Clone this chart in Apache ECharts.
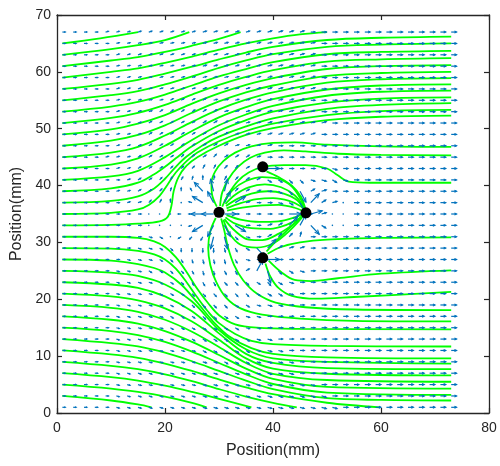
<!DOCTYPE html>
<html>
<head>
<meta charset="utf-8">
<script src="https://cdn.jsdelivr.net/npm/echarts/dist/echarts.min.js"></script>
<style>
  html, body { margin: 0; padding: 0; background: #fff; }
  #main { width: 500px; height: 466px; }
</style>
</head>
<body>
<div id="main"></div>
<script>
// axis ticks
const xTicks = [0, 20, 40, 60, 80];
const yTicks = [0, 10, 20, 30, 40, 50, 60, 70];

// black particles
const dots = [[30, 35.3], [38.1, 43.3], [46.1, 35.2], [38.1, 27.3]];

// quiver grid
const gridX = [1, 3, 5, 7, 9, 11, 13, 15, 17, 19, 21, 23, 25, 27, 29, 31, 33, 35, 37, 39, 41, 43, 45, 47, 49, 51, 53, 55, 57, 59, 61, 63, 65, 67, 69, 71, 73];
const gridY = [67, 65, 63, 61, 59, 57, 55, 53, 51, 49, 47, 45, 43, 41, 39, 37, 35, 33, 31, 29, 27, 25, 23, 21, 19, 17, 15, 13, 11, 9, 7, 5, 3, 1];
// arrow length per column (data units)
const colLen = [0.55, 0.55, 0.55, 0.55, 0.55, 0.55, 0.55, 0.6, 0.6, 0.6, 0.6, 0.6, 0.6, 0.7, 0.7, 0.7, 0.7, 0.7, 0.7, 0.8, 0.8, 0.8, 0.8, 0.8, 0.9, 0.9, 0.9, 0.9, 1, 1, 1, 1, 1, 1, 1, 1, 1];
// arrow directions read row by row (top to bottom), run-length coded
// a..x = 0..345 deg in 15 deg steps, upper case = long arrow, '.' = almost no field
const arrowRows = [
  "4a19b14a",
  "5a19b13a",
  "5a19b13a",
  "5a19b13a",
  "5a19b13a",
  "5a19b13a",
  "5a5b4c9b14a",
  "5a4b6c9b13a",
  "5a3b8c9b12a",
  "5a3b8c8b13a",
  "5a3b8c4b17a",
  "4a3b4c2d1c1d3c1b18a",
  "5a2b3c3d2e2d1c2A5a1x11a",
  "6a1b2c1d2e1f1g1f1e1d2c2w2v2x1w1x10a",
  "5a2b2c1d1f1g1i1J1H1F1d1c1b1a1w1v1U1c1b12a",
  "6a2b1d1e1g1.1l1K1I1E1C1b2a1x1w1U1D1c1b1.10a",
  "8a3.2m2M1A5a2A1B1b2.10a",
  "8a4.1n1O1Q1U1W2a1b1c1D1E1V1w2.10a",
  "8a1x1w1.1o1p1q1R1T1v1x1a1c2d1f14a",
  "7a2x1w1v4s1t1u1w1V1D1c2b14a",
  "6a3x1w1v1u4t1u1x2A17a",
  "5a3x2w2v1u2t2u1c1E1T1v1w1x14a",
  "5a4x2w1v3u3v1w1v1w1x15a",
  "5a4x3w6v3w1x15a",
  "5a5x2w4v2w3x16a",
  "5a5x3w2v2w2x18a",
  "5a5x7w2x18a",
  "5a7x6w2x17a",
  "5a8x5w3x16a",
  "5a10x3w4x15a",
  "5a17x15a",
  "5a19x13a",
  "5a20x12a",
  "5a21x11a"
];
const dirLetters = "abcdefghijklmnopqrstuvwx";
const LONG = 2.2;

// streamlines started on the left edge
const leftLines = [
  [[1, 65], [8, 65.9], [15, 67]],
  [[1, 63], [10, 64], [15, 64.7], [20, 65.6], [24.5, 67]],
  [[1, 61], [10, 62], [15, 62.6], [20, 63.5], [25, 64.6], [30, 65.8], [34, 67]],
  [[1, 59], [10, 60], [15, 60.6], [20, 61.6], [25, 62.7], [30, 63.9], [35, 65], [40, 65.9], [45, 66.6], [50, 67]],
  [[1, 57], [10, 57.9], [15, 58.6], [20, 59.7], [25, 60.9], [30, 62.2], [35, 63.4], [40, 64.4], [50, 65.6], [60, 66], [73, 66.2]],
  [[1, 55], [10, 55.9], [15, 56.6], [20, 57.8], [25, 59.2], [30, 60.7], [35, 62], [40, 63.1], [50, 64.4], [60, 64.8], [73, 65]],
  [[1, 53], [10, 53.9], [15, 54.7], [20, 56], [25, 57.6], [30, 59.2], [35, 60.5], [40, 61.7], [50, 63.1], [60, 63.5], [73, 63.7]],
  [[1, 51], [10, 51.9], [15, 52.8], [20, 54.2], [25, 56], [30, 57.7], [35, 59.1], [40, 60.3], [50, 61.8], [60, 62.2], [73, 62.4]],
  [[1, 49], [10, 49.9], [15, 50.9], [20, 52.4], [25, 54.4], [30, 56.2], [35, 57.7], [40, 58.9], [50, 60.5], [60, 61], [73, 61.2]],
  [[1, 47], [10, 47.9], [15, 48.9], [20, 50.6], [25, 52.8], [30, 54.8], [35, 56.4], [40, 57.6], [50, 59.3], [60, 59.8], [73, 60]],
  [[1, 45], [10, 45.8], [15, 46.8], [20, 48.8], [25, 51.2], [30, 53.4], [35, 55.1], [40, 56.4], [50, 58.1], [60, 58.7], [73, 58.9]],
  [[1, 43], [10, 43.7], [15, 44.8], [20, 47], [25, 49.6], [30, 52], [35, 53.8], [40, 55.2], [50, 56.9], [60, 57.6], [73, 57.8]],
  [[1, 41], [10, 41.6], [15, 42.6], [20, 45], [25, 48], [30, 50.6], [35, 52.5], [40, 54], [50, 55.8], [60, 56.5], [73, 56.7]],
  [[1, 39], [10, 39.5], [15, 40.5], [18, 42], [20, 43.3], [22, 44.8], [25, 46.9], [30, 49.6], [35, 51.5], [40, 53], [50, 54.6], [60, 55.3], [73, 55.5]],
  [[1, 37], [10, 37.3], [15, 38.1], [18, 39.5], [20, 41.2], [22, 43.3], [24, 45.1], [27, 47.1], [30, 48.6], [35, 50.4], [40, 51.8], [50, 53.5], [60, 54.2], [73, 54.5]],
  [[1, 35], [10, 35.2], [15, 35.8], [17, 36.6], [19, 38.2], [20.5, 40.2], [22, 42.3], [24, 44.3], [26, 45.8], [30, 47.8], [35, 49.6], [40, 50.9], [50, 52.4], [60, 53.1], [73, 53.3]],
  [[1, 33], [10, 33.1], [15, 33.3], [19, 33.7], [20.5, 34.5], [21.2, 36.5], [21.6, 39], [22.5, 41.5], [24, 43.5], [26, 45], [30, 47], [35, 48.9], [40, 50.1], [50, 51.5], [60, 52.1], [73, 52.3]],
  [[1, 31], [10, 31], [15, 30.8], [18, 30.2], [20, 29.2], [22, 27.4], [24, 24.8], [26, 21.8], [28, 19.3], [30, 17.2], [33, 15.6], [37, 15], [45, 14.8], [73, 14.7]],
  [[1, 29], [10, 28.9], [15, 28.5], [18, 27.9], [20, 27], [22, 25.4], [24, 23], [26, 20.3], [28, 17.8], [30, 15.8], [33, 13.9], [36, 12.7], [40, 12.1], [50, 11.8], [73, 11.7]],
  [[1, 27], [10, 26.8], [15, 26.2], [18, 25.5], [20, 24.7], [23, 22.6], [26, 19.4], [29, 16], [32, 13.4], [36, 11.4], [40, 10.4], [50, 9.8], [73, 9.6]],
  [[1, 25], [10, 24.7], [15, 24.1], [20, 22.6], [25, 19.6], [30, 14.6], [35, 11.2], [40, 9.6], [50, 9], [73, 8.7]],
  [[1, 23], [10, 22.6], [15, 22], [20, 20.5], [25, 17.9], [30, 14], [35, 10.4], [40, 8.8], [50, 7.9], [73, 7.7]],
  [[1, 21], [10, 20.5], [15, 19.8], [20, 18.4], [25, 16.1], [30, 12.9], [35, 9.6], [40, 7.8], [50, 6.9], [73, 6.6]],
  [[1, 19], [10, 18.5], [15, 17.8], [20, 16.4], [25, 14.3], [30, 11.6], [35, 8.8], [40, 6.9], [50, 5.8], [73, 5.5]],
  [[1, 17], [10, 16.4], [15, 15.7], [20, 14.4], [25, 12.5], [30, 10.2], [35, 7.8], [40, 6], [50, 4.6], [73, 4.3]],
  [[1, 15], [10, 14.4], [15, 13.7], [20, 12.5], [25, 10.8], [30, 8.8], [35, 6.8], [40, 5.1], [50, 3.6], [73, 3.2]],
  [[1, 13], [10, 12.3], [15, 11.7], [20, 10.6], [25, 9.1], [30, 7.4], [35, 5.7], [40, 4.2], [50, 2.6], [60, 2.3], [73, 2.2]],
  [[1, 11], [10, 10.3], [15, 9.7], [20, 8.7], [25, 7.4], [30, 5.9], [35, 4.5], [40, 3.3], [50, 1.8], [59.8, 1]],
  [[1, 9], [10, 8.3], [15, 7.7], [20, 6.8], [25, 5.6], [30, 4.2], [35, 2.9], [40, 1.8], [44.4, 1]],
  [[1, 7], [10, 6.3], [15, 5.7], [20, 4.8], [25, 3.7], [30, 2.5], [36, 1]],
  [[1, 5], [10, 4.3], [15, 3.7], [20, 2.9], [25, 1.8], [27.7, 1]],
  [[1, 3], [10, 2.2], [15, 1.5], [17.5, 1]]
];

// streamlines started around the particles
const dotLines = [
  [[29.6, 36.3], [28.7, 38.5], [28.6, 40.5], [29.3, 42.5], [30.8, 44.3], [33, 45.8], [36, 46.9], [40, 47.5], [44, 47.6], [50, 47.2], [60, 46.9], [73, 46.8]],
  [[30.2, 36.4], [30.6, 38.8], [31.8, 41.2], [33.5, 43.3], [35.8, 44.9], [38.5, 45.8], [42, 46.2], [46, 46], [52, 45.6], [60, 45.4], [73, 45.3]],
  [[30.6, 36.3], [31.8, 38.6], [33.5, 40.8], [35.5, 42.3], [38.1, 43.3], [42, 43.6], [46, 43.6], [50, 43], [52, 41.8], [54, 40.7], [58, 40.5], [73, 40.5]],
  [[31, 37.2], [32.5, 39.2], [35, 40.8], [38, 41.5], [41, 41.2], [43.5, 39.8], [45.3, 37.3], [46.1, 35.3]],
  [[31.2, 36.8], [33, 38.4], [35.5, 39.7], [38.5, 40.2], [41.5, 39.7], [44, 38.3], [45.6, 36.4], [46.1, 35.3]],
  [[31.3, 36.4], [33.5, 37.7], [36, 38.6], [39, 39], [42, 38.6], [44.5, 37.4], [46.1, 35.3]],
  [[31.4, 36], [34, 36.9], [37, 37.6], [40, 37.8], [43, 37.3], [45.2, 36.3], [46.1, 35.3]],
  [[31.5, 35.6], [35, 36.2], [38, 36.5], [41, 36.6], [44, 36.1], [46.1, 35.3]],
  [[31.4, 34.8], [34, 34], [37.5, 33.6], [41, 33.7], [44, 34.4], [46.1, 35.2]],
  [[31.2, 34.4], [33, 33.3], [36, 32.5], [39.5, 32.4], [42.5, 33.1], [44.8, 34.2], [46.1, 35.2]],
  [[31, 34.1], [33, 32], [35.5, 30.5], [38, 30.4], [41, 31.5], [44, 33.4], [46.1, 35.2]],
  [[30.8, 34], [32, 31.5], [34, 29.6], [37, 29.1], [40, 29.8], [43, 32], [46.1, 35.2]],
  [[38.8, 42.5], [41, 41.5], [43.5, 40], [45.2, 38], [46.1, 35.5]],
  [[38.8, 28.4], [40.5, 30.2], [42.8, 32.3], [44.8, 34.1], [46.1, 35.2]],
  [[29.4, 34.3], [28.4, 32], [28, 29], [28.4, 26], [29.5, 23], [31.3, 20.3], [34, 18.4], [38, 17.3], [45, 16.6], [55, 16.2], [73, 16.1]],
  [[30.4, 34.2], [31, 32], [31.7, 29], [32.8, 26], [34.5, 23.3], [37, 21], [40.5, 19.4], [46, 18.6], [55, 18.2], [73, 18.1]],
  [[39, 28], [41.5, 29.2], [45, 30], [50, 30.5], [60, 30.8], [73, 30.9]],
  [[39.2, 26.8], [41.5, 24.8], [44, 23.4], [47, 23.2], [52, 23.7], [60, 24.5], [73, 25.1]],
  [[38.6, 26.3], [39.5, 24], [41, 22], [43.5, 20.6], [48, 20.1], [55, 20.4], [73, 21.3]]
];

// build quiver data from the coded rows
const arrowData = [];
arrowRows.forEach(function (row, r) {
  const cells = row.replace(/(\d+)(\D)/g, function (m, n, ch) { return ch.repeat(+n); });
  for (let c = 0; c < gridX.length; c++) {
    const ch = cells[c];
    if (!ch) continue;
    if (ch === '.') {
      arrowData.push([gridX[c], gridY[r], 0, 0.15]);
      continue;
    }
    const k = dirLetters.indexOf(ch.toLowerCase());
    const len = ch === ch.toUpperCase() ? LONG : colLen[c];
    arrowData.push([gridX[c], gridY[r], k * 15 * Math.PI / 180, len]);
  }
});

const blue = '#0072BD';
const axisColor = '#262626';
const font = 'Liberation Sans, Arial, Helvetica, sans-serif';

function renderArrow(params, api) {
  const x = api.value(0), y = api.value(1), ang = api.value(2), len = api.value(3);
  const p0 = api.coord([x, y]);
  const p1 = api.coord([x + len * Math.cos(ang), y + len * Math.sin(ang)]);
  const dx = p1[0] - p0[0], dy = p1[1] - p0[1];
  const L = Math.sqrt(dx * dx + dy * dy);
  if (L < 1.5) {
    return { type: 'circle', shape: { cx: p0[0], cy: p0[1], r: 0.8 }, style: { fill: blue } };
  }
  const ux = dx / L, uy = dy / L;
  const h = Math.min(0.4 * L, 4.5), w = h * 0.45;
  const bx = p1[0] - ux * h, by = p1[1] - uy * h;
  return {
    type: 'group',
    children: [
      { type: 'line', shape: { x1: p0[0], y1: p0[1], x2: p1[0], y2: p1[1] }, style: { stroke: blue, lineWidth: 1.2 } },
      { type: 'polyline', shape: { points: [[bx - uy * w, by + ux * w], p1, [bx + uy * w, by - ux * w]] }, style: { stroke: blue, fill: null, lineWidth: 1.1 } }
    ]
  };
}

const lineSeries = leftLines.concat(dotLines).map(function (pts) {
  return {
    type: 'line',
    data: pts,
    showSymbol: false,
    smooth: 0.35,
    silent: true,
    z: 2,
    lineStyle: { color: '#00ff00', width: 1.8 }
  };
});

const chart = echarts.init(document.getElementById('main'));

const xBase = {
  type: 'value',
  min: xTicks[0],
  max: xTicks[xTicks.length - 1],
  interval: xTicks[1] - xTicks[0],
  splitLine: { show: false },
  axisLine: { onZero: false, lineStyle: { color: axisColor, width: 1.3 } },
  axisTick: { inside: true, length: 5, lineStyle: { color: axisColor, width: 1.2 } }
};
const yBase = {
  type: 'value',
  min: yTicks[0],
  max: yTicks[yTicks.length - 1],
  interval: yTicks[1] - yTicks[0],
  splitLine: { show: false },
  axisLine: { onZero: false, lineStyle: { color: axisColor, width: 1.3 } },
  axisTick: { inside: true, length: 5, lineStyle: { color: axisColor, width: 1.2 } }
};

chart.setOption({
  animation: false,
  backgroundColor: '#fff',
  grid: { left: 57, right: 11, top: 15, bottom: 53 },
  xAxis: [
    Object.assign({}, xBase, {
      position: 'bottom',
      name: 'Position(mm)',
      nameLocation: 'middle',
      nameGap: 30,
      nameTextStyle: { fontSize: 16, color: axisColor, fontFamily: font },
      axisLabel: { fontSize: 14, color: axisColor, fontFamily: font, margin: 8 }
    }),
    Object.assign({}, xBase, { position: 'top', axisLabel: { show: false } })
  ],
  yAxis: [
    Object.assign({}, yBase, {
      position: 'left',
      name: 'Position(mm)',
      nameLocation: 'middle',
      nameGap: 25,
      nameTextStyle: { fontSize: 16, color: axisColor, fontFamily: font },
      axisLabel: { fontSize: 14, color: axisColor, fontFamily: font, margin: 6 }
    }),
    Object.assign({}, yBase, { position: 'right', axisLabel: { show: false } })
  ],
  series: lineSeries.concat([
    {
      type: 'custom',
      renderItem: renderArrow,
      data: arrowData,
      silent: true,
      z: 3
    },
    {
      type: 'scatter',
      data: dots,
      symbolSize: 11,
      silent: true,
      z: 5,
      itemStyle: { color: '#000', opacity: 1 }
    }
  ])
});
</script>
</body>
</html>
